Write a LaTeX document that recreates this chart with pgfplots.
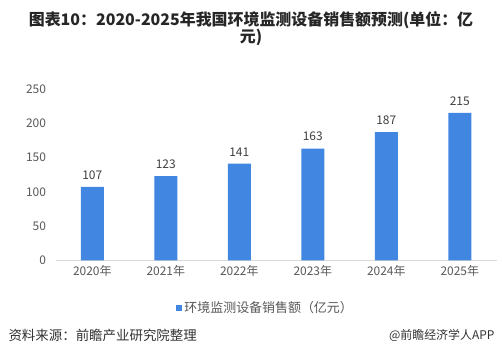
\documentclass[border=0pt]{standalone}
\usepackage{fontspec}
\setmainfont{Noto Sans CJK SC}
\usepackage{pgfplots}
\pgfplotsset{compat=1.18}
\definecolor{barblue}{RGB}{65,134,224}
\definecolor{ticktxt}{RGB}{89,89,89}
\definecolor{lbltxt}{RGB}{64,64,64}
\definecolor{axline}{RGB}{217,217,217}
\begin{document}
\begin{tikzpicture}[x=1bp,y=1bp]
\path[use as bounding box, fill=white] (0,0) rectangle (502,355);
\node[font=\fontsize{16}{17}\selectfont\bfseries, align=center, text=black!85] at (251,326.5) {图表10：2020-2025年我国环境监测设备销售额预测(单位：亿\\元)};
\begin{axis}[
  at={(55.5bp,94.7bp)}, anchor=south west,
  scale only axis, width=441bp, height=171.3bp,
  xmin=-0.5, xmax=5.5, ymin=0, ymax=250,
  xtick=data,
  xticklabels={2020年,2021年,2022年,2023年,2024年,2025年},
  ytick={0,50,100,150,200,250},
  axis x line*=bottom,
  x axis line style={draw=axline, line width=0.8pt, -},
  y axis line style={draw=none},
  separate axis lines,
  axis y line*=left,
  major tick length=0pt,
  tick style={draw=none},
  /pgf/number format/assume math mode=true,
  ticklabel style={font=\fontsize{12}{14}\selectfont, text=ticktxt},
  yticklabel style={xshift=-6bp},
  xticklabel style={yshift=-2bp},
  ybar, bar width=23bp,
  nodes near coords,
  every node near coord/.append style={font=\fontsize{12}{14}\selectfont, text=lbltxt, yshift=4bp},
  legend style={at={(0.476,-0.278)}, anchor=center, draw=none, fill=none, font=\fontsize{13}{15}\selectfont, text=ticktxt},
  legend image code/.code={\fill[barblue] (0bp,-3.2bp) rectangle (6.5bp,3.2bp);},
]
\addplot[fill=barblue, draw=none] coordinates {(0,107) (1,123) (2,141) (3,163) (4,187) (5,215)};
\addlegendentry{环境监测设备销售额（亿元）}
\end{axis}
\node[anchor=west, font=\fontsize{13.5}{15}\selectfont, text=black!80] at (5,20) {资料来源：前瞻产业研究院整理};
\node[anchor=east, font=\fontsize{12}{15}\selectfont, text=black!80] at (498,20) {@前瞻经济学人APP};
\end{tikzpicture}
\end{document}
